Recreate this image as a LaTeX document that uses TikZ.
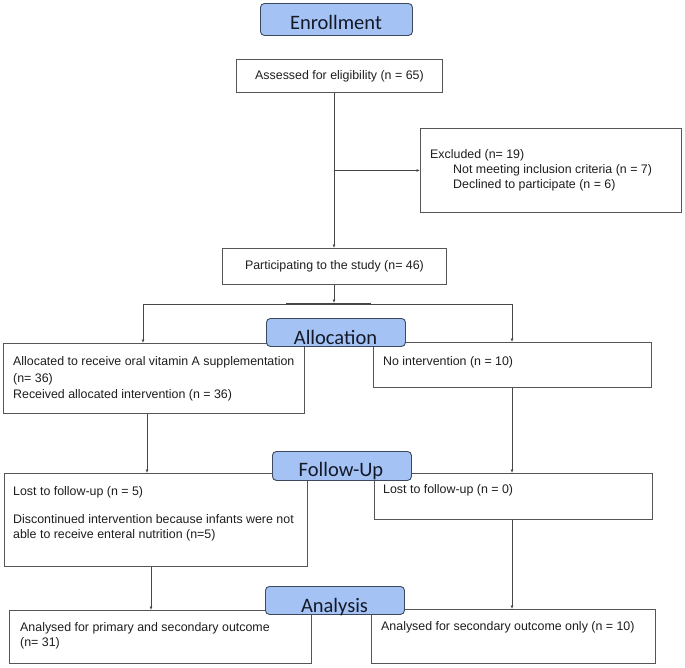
\documentclass[tikz,border=0pt]{standalone}
\usepackage{fontspec}
\setmainfont{Liberation Sans}
\newfontfamily\stagefont{Carlito}
\usetikzlibrary{arrows.meta}
\definecolor{stagefill}{RGB}{164,194,244}
\definecolor{stageedge}{RGB}{60,72,92}
\definecolor{boxgray}{RGB}{85,85,85}
\definecolor{linegray}{RGB}{70,70,70}
\definecolor{txtcol}{RGB}{30,30,30}
\definecolor{stagetext}{RGB}{20,25,40}
\begin{document}
\begin{tikzpicture}[x=1pt,y=-1pt,
  box/.style={draw=boxgray, fill=white, line width=0.9pt, inner sep=0pt, anchor=north west,
              font=\fontsize{12.4}{15}\selectfont, text=txtcol},
  stagebox/.style={draw=stageedge, fill=stagefill, rounded corners=4pt, line width=0.9pt,
                   inner sep=0pt, anchor=north west},
  txt/.style={anchor=base west, inner sep=0pt, font=\fontsize{12.4}{15}\selectfont, text=txtcol},
  stagetxt/.style={anchor=base, inner sep=0pt, font=\stagefont\fontsize{20.5}{24}\selectfont, text=stagetext},
  arr/.style={draw=linegray, line width=0.9pt, -{Latex[length=3.5pt,width=3pt]}},
  ln/.style={draw=linegray, line width=0.9pt}]
\useasboundingbox (0,0) rectangle (685,667);

% boxes
\node[box, minimum width=206pt, minimum height=33pt] (assess) at (236,59) {Assessed for eligibility (n = 65)};
\node[box, minimum width=261pt, minimum height=84pt] (excl) at (420,128) {};
\node[box, minimum width=224pt, minimum height=36pt] (part) at (222,248) {Participating to the study (n= 46)};
\node[box, minimum width=301pt, minimum height=70pt] (alloc) at (3,343) {};
\node[box, minimum width=278pt, minimum height=45pt] (noint) at (373,342) {};
\node[box, minimum width=303pt, minimum height=93pt] (lostl) at (4,473) {};
\node[box, minimum width=278pt, minimum height=46pt] (lostr) at (374,473) {};
\node[box, minimum width=302pt, minimum height=53pt] (anl) at (9,610) {};
\node[box, minimum width=284pt, minimum height=54pt] (anr) at (371,609) {};

% texts in boxes
\node[txt] (ex1) at (430,158) {Excluded (n= 19)};
\node[txt] (ex2) at (453,173) {Not meeting inclusion criteria (n = 7)};
\node[txt] (ex3) at (453,188) {Declined to participate (n = 6)};
\node[txt] (al1) at (13,365.5) {Allocated to receive oral vitamin A supplementation};
\node[txt] (al2) at (13,382.5) {(n= 36)};
\node[txt] (al3) at (13,398.5) {Received allocated intervention (n = 36)};
\node[txt] (ni1) at (383,365.5) {No intervention (n = 10)};
\node[txt] (ll1) at (13,495.5) {Lost to follow-up (n = 5)};
\node[txt] (ll2) at (13,523.5) {Discontinued intervention because infants were not};
\node[txt] (ll3) at (13,538.5) {able to receive enteral nutrition (n=5)};
\node[txt] (lr1) at (383,493.5) {Lost to follow-up (n = 0)};
\node[txt] (an1) at (20,631.5) {Analysed for primary and secondary outcome};
\node[txt] (an2) at (20,646.5) {(n= 31)};
\node[txt] (ar1) at (381,630.5) {Analysed for secondary outcome only (n = 10)};

% connectors
\coordinate (cM) at (334,0);
\coordinate (split) at (334,304);
\coordinate (splitL) at (143,304);
\coordinate (splitR) at (512,304);
\coordinate (thickA) at (286,304);
\coordinate (thickB) at (371,304);
\coordinate (cL1) at (147,0);
\coordinate (cL2) at (151,0);
\coordinate (cR) at (512,0);

\draw[arr] (assess.south -| cM) -- (part.north -| cM);
\draw[arr] (excl.west -| cM) -- (excl.west);
\draw[arr] (part.south -| cM) -- ([yshift=1pt]split);
\draw[ln] (splitL) -- (splitR);
\draw[linegray, line width=2pt] (thickA) -- (thickB);
\draw[arr] (splitL) -- (alloc.north -| splitL);
\draw[arr] (splitR) -- (noint.north -| splitR);
\draw[arr] (alloc.south -| cL1) -- (lostl.north -| cL1);
\draw[arr] (noint.south -| cR) -- (lostr.north -| cR);
\draw[arr] (lostl.south -| cL2) -- (anl.north -| cL2);
\draw[arr] (lostr.south -| cR) -- (anr.north -| cR);

% stage headers
\node[stagebox, minimum width=152pt, minimum height=32pt] (sEnr) at (260,3) {};
\node[stagebox, minimum width=139pt, minimum height=28pt] (sAll) at (266,318) {};
\node[stagebox, minimum width=139pt, minimum height=29pt] (sFol) at (272,451) {};
\node[stagebox, minimum width=139pt, minimum height=28pt] (sAna) at (265,586) {};
\node[stagetxt] (tEnr) at (336,29) {Enrollment};
\node[stagetxt] (tAll) at (335.5,344) {Allocation};
\node[stagetxt] (tFol) at (341,476) {Follow-Up};
\node[stagetxt] (tAna) at (334.5,612) {Analysis};
\end{tikzpicture}
\end{document}
